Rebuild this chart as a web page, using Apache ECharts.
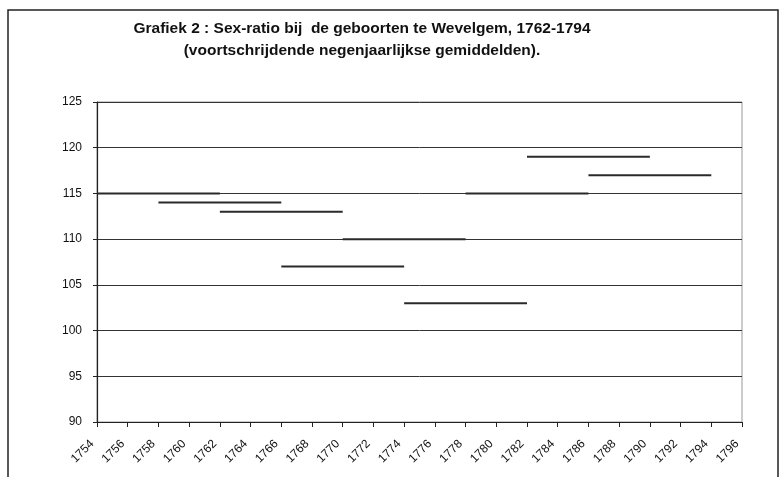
<!DOCTYPE html>
<html><head><meta charset="utf-8">
<script src="https://cdn.jsdelivr.net/npm/echarts@6/dist/echarts.min.js"></script>
<style>html,body{margin:0;padding:0;background:#fff}#c{width:784px;height:477px}</style>
</head><body><div id="c"></div>
<script>
// Nine-year moving averages: each drawn as a horizontal segment
const segStart = [1754, 1758, 1762, 1766, 1770, 1774, 1778, 1782, 1786];
const segEnd   = [1762, 1766, 1770, 1774, 1778, 1782, 1786, 1790, 1794];
const segValue = [115, 114, 113, 107, 110, 103, 115, 119, 117];
const yTicks = [90, 95, 100, 105, 110, 115, 120, 125];
const xMin = 1754, xMax = 1796;
const titleLines = ['Grafiek 2 : Sex-ratio bij  de geboorten te Wevelgem, 1762-1794', '(voortschrijdende negenjaarlijkse gemiddelden).'];
const FONT = '"Liberation Sans", Arial, sans-serif';

const series = segStart.map((s, i) => ({
  type: 'line', symbol: 'none', silent: true,
  lineStyle: { color: '#2a2a2a', width: 2 },
  data: [[s, segValue[i]], [segEnd[i], segValue[i]]]
}));

const chart = echarts.init(document.getElementById('c'));
chart.setOption({
  animation: false,
  backgroundColor: '#fff',
  title: {
    text: titleLines.join('\n'), left: 357, textAlign: 'center', top: 13,
    textStyle: { fontFamily: FONT, fontWeight: 'bold', fontSize: 15.5, lineHeight: 22, color: '#111' }
  },
  graphic: [{ type: 'rect', shape: { x: 8, y: 10, width: 770, height: 480 }, style: { fill: 'none', stroke: '#222', lineWidth: 1.5 }, silent: true }],
  grid: { left: 97, right: 42, top: 102, bottom: 55, show: true, borderColor: '#999', borderWidth: 1 },
  xAxis: {
    type: 'value', min: xMin, max: xMax, interval: 2,
    axisLine: { show: true, onZero: false, lineStyle: { color: '#222', width: 1.2 } },
    axisTick: { show: true, length: 5, lineStyle: { color: '#222' } },
    splitLine: { show: false },
    axisLabel: { rotate: 45, fontFamily: FONT, fontSize: 12, color: '#111', margin: 15, padding: [0, 7, 0, 0], formatter: v => String(v) }
  },
  yAxis: {
    type: 'value', min: yTicks[0], max: yTicks[yTicks.length - 1], interval: 5,
    axisLine: { show: true, lineStyle: { color: '#222', width: 1.2 } },
    axisTick: { show: true, length: 4, lineStyle: { color: '#222' } },
    splitLine: { show: true, lineStyle: { color: '#333', width: 1 } },
    axisLabel: { fontFamily: FONT, fontSize: 12, color: '#111', margin: 15 }
  },
  series: series
});
</script></body></html>
